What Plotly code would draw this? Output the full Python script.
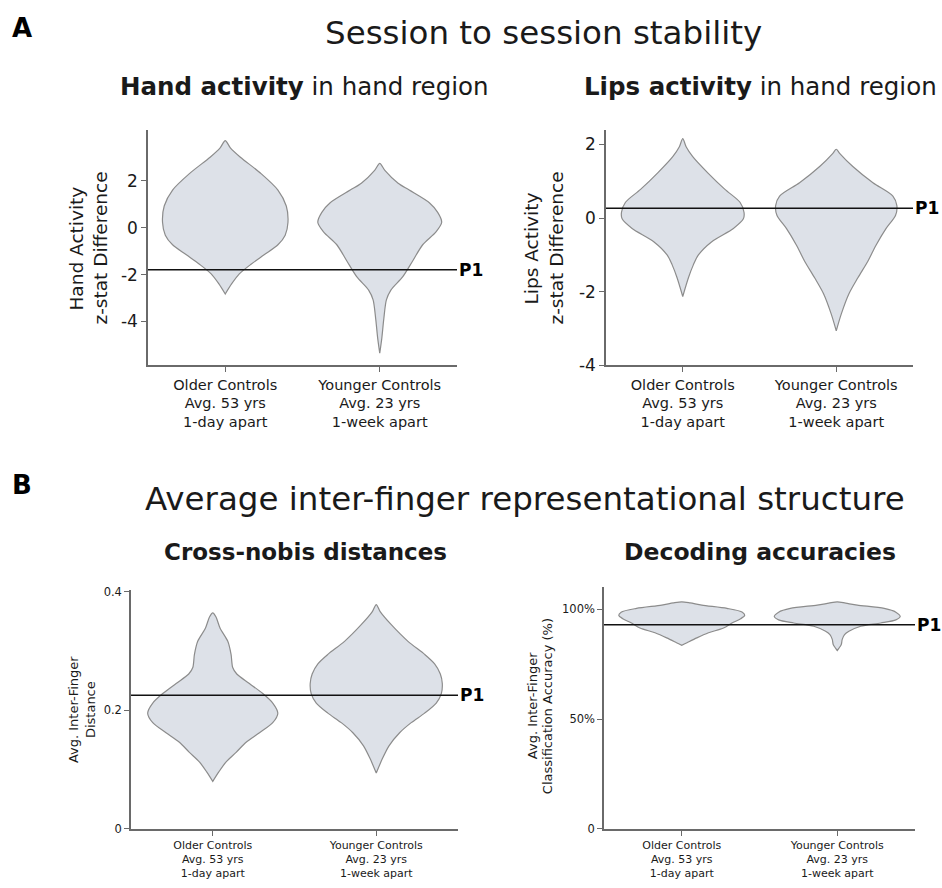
import plotly.graph_objects as go

W, H = 942, 888

categories = ["Older Controls<br>Avg. 53 yrs<br>1-day apart",
              "Younger Controls<br>Avg. 23 yrs<br>1-week apart"]

# Violin density outlines: y values and half-widths (category units)
a1_old_y = [3.71, 3.4, 3.0, 2.3, 1.6, 0.92, 0.23, -0.32, -0.73, -1.15, -1.56, -1.97, -2.4, -2.83]
a1_old_w = [0, .033, .098, .232, .341, .395, .406, .388, .341, .254, .167, .091, .041, 0]
a1_yng_y = [2.74, 2.44, 1.89, 1.6, 1.06, 0.65, 0.23, -0.18, -0.73, -1.42, -2.1, -2.66, -3.08, -3.9, -4.73, -5.35]
a1_yng_w = [0, .033, .119, .191, .321, .375, .401, .364, .278, .213, .148, .072, .043, .026, .013, 0]

a2_old_y = [2.16, 1.94, 1.67, 1.23, 0.78, 0.43, 0.16, -0.02, -0.28, -0.64, -1.0, -1.27, -1.62, -2.13]
a2_old_w = [0, .022, .065, .163, .275, .373, .399, .395, .330, .189, .102, .069, .037, 0]
a2_yng_y = [1.87, 1.76, 1.4, 0.96, 0.6, 0.34, 0.07, -0.28, -0.73, -1.17, -1.62, -2.06, -2.6, -3.06]
a2_yng_w = [0, .022, .108, .239, .369, .395, .386, .325, .260, .206, .141, .082, .033, 0]

b1_old_y = [0.364, 0.357, 0.338, 0.316, 0.294, 0.272, 0.261, 0.245, 0.228, 0.212, 0.195, 0.179, 0.162, 0.146, 0.129, 0.113, 0.096, 0.08]
b1_old_w = [0, .020, .045, .092, .112, .122, .147, .224, .306, .367, .398, .367, .286, .204, .143, .082, .037, 0]
b1_yng_y = [0.378, 0.366, 0.344, 0.316, 0.294, 0.278, 0.261, 0.245, 0.228, 0.212, 0.195, 0.179, 0.162, 0.14, 0.118, 0.094]
b1_yng_w = [0, .024, .092, .194, .296, .357, .392, .404, .398, .367, .296, .214, .143, .078, .037, 0]

b2_old_y = [1.034, 1.029, 1.019, 1.004, 0.987, 0.972, 0.957, 0.9375, 0.915, 0.893, 0.87, 0.848, 0.836]
b2_old_w = [0, .054, .129, .291, .390, .405, .379, .323, .269, .172, .097, .034, 0]
b2_yng_y = [1.034, 1.028, 1.019, 1.004, 0.987, 0.967, 0.952, 0.9375, 0.923, 0.90, 0.885, 0.863, 0.84, 0.823, 0.812]
b2_yng_w = [0, .054, .129, .302, .377, .405, .377, .280, .151, .075, .047, .032, .026, .011, 0]

# Patient P1 reference values
p1_values = [-1.8, 0.27, 0.225, 0.93]

# Axis ticks
a_ticks = [2, 0, -2, -4]
a_ticktext = ["2", "0", "-2", "-4"]
b1_ticks = [0, 0.2, 0.4]
b1_ticktext = ["0", "0.2", "0.4"]
b2_ticks = [0, 0.5, 1.0]
b2_ticktext = ["0", "50%", "100%"]

FILL = "#dde1e8"
EDGE = "#8c8c8c"
AX = "#6a6a6a"
TXT = "#1a1a1a"
TITLE_FONT = "DejaVu Sans"
TICK_FONT = "DejaVu Sans"

fig = go.Figure()

def px_x(p):
    return p / W

def px_y(p):
    return 1 - p / H

panels = [
    ("", [(a1_old_y, a1_old_w), (a1_yng_y, a1_yng_w)], (148, 457), (126, 366), [-5.87, 4.17], a_ticks, a_ticktext, 17, 14.5),
    ("2", [(a2_old_y, a2_old_w), (a2_yng_y, a2_yng_w)], (606, 913), (126, 366), [-4, 2.4], a_ticks, a_ticktext, 17, 14.5),
    ("3", [(b1_old_y, b1_old_w), (b1_yng_y, b1_yng_w)], (131, 458), (595, 838), [0, 0.402], b1_ticks, b1_ticktext, 11.5, 11),
    ("4", [(b2_old_y, b2_old_w), (b2_yng_y, b2_yng_w)], (604, 915), (592, 838), [0, 1.1], b2_ticks, b2_ticktext, 11.5, 11),
]

for i, (aid, viols, xd, yd, yr, tv, tt, tfs, cfs) in enumerate(panels):
    for ci, (vy, vw) in enumerate(viols):
        xs = [ci + w for w in vw] + [ci - w for w in reversed(vw)]
        ys = list(vy) + list(reversed(vy))
        fig.add_trace(go.Scatter(
            x=xs, y=ys, mode="lines", fill="toself", fillcolor=FILL,
            line=dict(color=EDGE, width=1.2, shape="spline", smoothing=0.8),
            xaxis="x" + aid, yaxis="y" + aid, showlegend=False, hoverinfo="skip"))
    fig.add_trace(go.Scatter(
        x=[-0.5, 1.5], y=[p1_values[i]] * 2, mode="lines",
        line=dict(color="#111111", width=1.5),
        xaxis="x" + aid, yaxis="y" + aid, showlegend=False, hoverinfo="skip"))
    xa = dict(domain=[px_x(xd[0]), px_x(xd[1])], range=[-0.5, 1.5],
              tickvals=[0, 1], ticktext=categories, showline=True, linecolor=AX, linewidth=1.5,
              ticks="outside", ticklen=5, tickcolor=AX, showgrid=False, zeroline=False,
              tickfont=dict(family=TICK_FONT, size=cfs, color=TXT),
              anchor="y" + aid, fixedrange=True)
    ya = dict(domain=[px_y(yd[1]), px_y(yd[0])], range=yr,
              tickvals=tv, ticktext=tt, showline=True, linecolor=AX, linewidth=1.5,
              ticks="outside", ticklen=5, tickcolor=AX, showgrid=False, zeroline=False,
              tickfont=dict(family=TICK_FONT, size=tfs, color=TXT),
              anchor="x" + aid, fixedrange=True)
    fig.layout["xaxis" + aid] = xa
    fig.layout["yaxis" + aid] = ya

ann = []

def add_text(text, x, y, size, family=TITLE_FONT, xanchor="center", angle=0, color=TXT):
    ann.append(dict(text=text, x=px_x(x), y=px_y(y), xref="paper", yref="paper",
                    xanchor=xanchor, yanchor="middle", showarrow=False, textangle=angle,
                    font=dict(family=family, size=size, color=color)))

add_text("<b>A</b>", 22, 22, 26, xanchor="center", color="#000")
add_text("<b>B</b>", 22, 488, 26, xanchor="center", color="#000")
add_text("Session to session stability", 543, 27, 32.5)
add_text("Average inter-finger representational structure", 525, 502, 32.5)
add_text("<b>Hand activity</b> in hand region", 304, 82, 24.5)
add_text("<b>Lips activity</b> in hand region", 760, 82, 24.5)
add_text("<b>Cross-nobis distances</b>", 305, 556, 23)
add_text("<b>Decoding accuracies</b>", 760, 556, 23.5)

add_text("Hand Activity", 77, 247, 18.5, family=TICK_FONT, angle=-90)
add_text("z-stat Difference", 101, 247, 18.5, family=TICK_FONT, angle=-90)
add_text("Lips Activity", 532, 247, 18.5, family=TICK_FONT, angle=-90)
add_text("z-stat Difference", 557, 247, 18.5, family=TICK_FONT, angle=-90)
add_text("Avg. Inter-Finger", 73, 717, 13, family=TICK_FONT, angle=-90)
add_text("Distance", 90, 717, 13, family=TICK_FONT, angle=-90)
add_text("Avg. Inter-Finger", 532, 713, 13, family=TICK_FONT, angle=-90)
add_text("Classification Accuracy (%)", 547, 713, 13, family=TICK_FONT, angle=-90)

p1_pos = [(457, ""), (913, "2"), (458, "3"), (915, "4")]
for (xpx, aid), val in zip(p1_pos, p1_values):
    ann.append(dict(text="<b>P1</b>", x=px_x(xpx), y=val, xref="paper", yref="y" + aid,
                    xanchor="left", yanchor="middle", showarrow=False,
                    font=dict(family=TITLE_FONT, size=17, color="#000")))

fig.update_layout(
    width=W, height=H, margin=dict(l=0, r=0, t=0, b=0),
    paper_bgcolor="white", plot_bgcolor="white",
    annotations=ann, showlegend=False,
)

fig.write_html("out.html", config={"displayModeBar": False},
               post_script="document.body.style.margin='0';document.body.style.overflow='hidden';")
